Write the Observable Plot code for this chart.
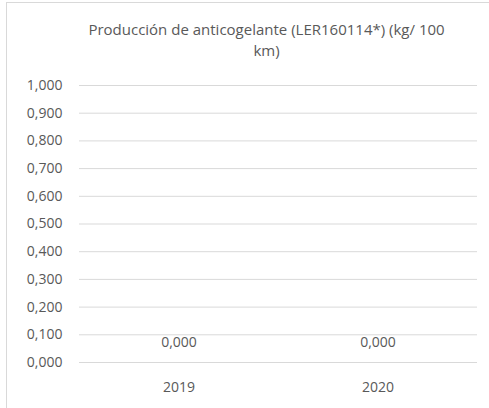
<!DOCTYPE html>
<html><head><meta charset="utf-8">
<script src="https://cdn.jsdelivr.net/npm/d3@7"></script>
<script src="https://cdn.jsdelivr.net/npm/@observablehq/plot@0.6"></script>
<style>
body{margin:0;overflow:hidden;background:#fff;width:489px;height:408px;position:relative;font-family:"Open Sans",sans-serif;}
#frame{position:absolute;left:6px;top:2px;width:520px;height:440px;border:1px solid #d9d9d9;box-sizing:border-box;}
#chart{position:absolute;left:0;top:0;}
</style></head>
<body><div id="frame"></div><div id="chart"></div>
<script>
const years = ["2019", "2020"];
const values = [0, 0];
const yTicks = [0, 0.1, 0.2, 0.3, 0.4, 0.5, 0.6, 0.7, 0.8, 0.9, 1.0];
const titleText = "Producción de anticogelante (LER160114*) (kg/ 100\nkm)";

const data = years.map((y, i) => ({year: y, value: values[i]}));
const fmt = v => d3.format(".3f")(v).replace(".", ",");

const chart = Plot.plot({
  width: 489, height: 408,
  marginTop: 85, marginLeft: 79, marginRight: 12, marginBottom: 46,
  style: {fontFamily: "Open Sans, sans-serif", fontSize: "14px", color: "#595959", background: "transparent"},
  x: {domain: years, padding: 0, label: null, tickSize: 0, tickPadding: 20},
  y: {domain: [0, 1], ticks: yTicks, tickFormat: fmt, label: null, tickSize: 0, tickPadding: 17},
  marks: [
    Plot.ruleY(yTicks, {stroke: "#d9d9d9", strokeWidth: 1}),
    Plot.barY(data, {x: "year", y: "value", fill: "#4472c4", inset: 50}),
    Plot.text(data, {x: "year", y: "value", text: d => fmt(d.value), dy: -20, fill: "#595959", fontSize: 14}),
    Plot.text([titleText], {frameAnchor: "top", lineAnchor: "middle", text: d => d, dx: -12, dy: -46.5, lineHeight: 1.4, fill: "#595959", fontSize: 15})
  ]
});
document.getElementById("chart").appendChild(chart);
</script></body></html>
